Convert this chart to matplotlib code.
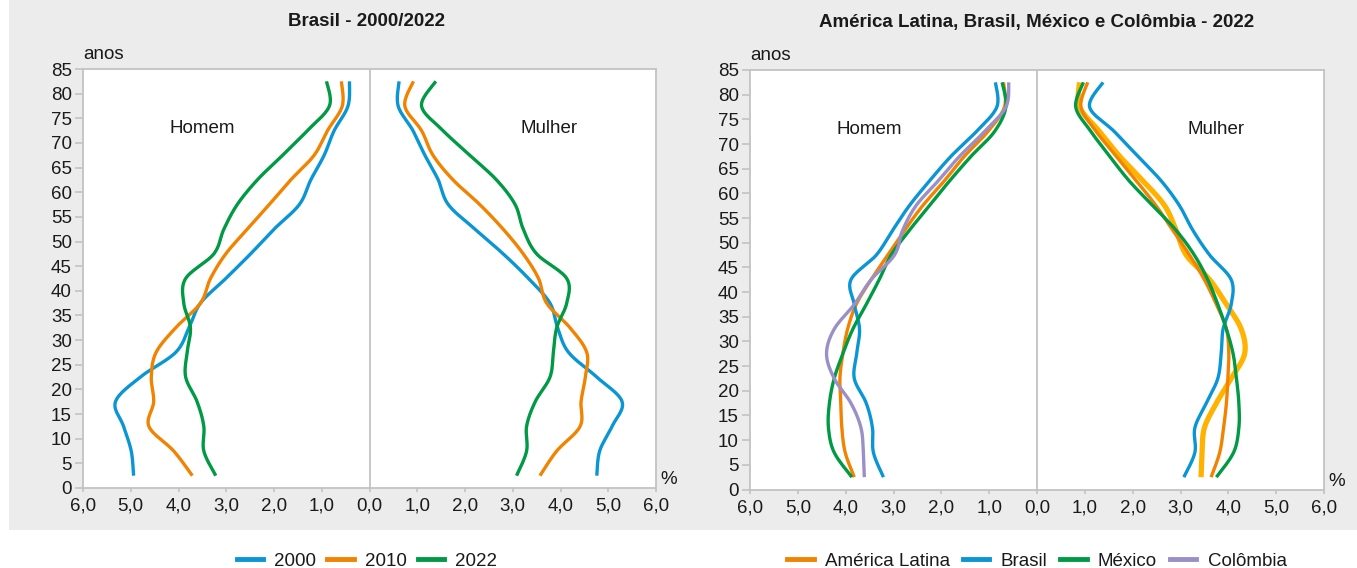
import matplotlib.pyplot as plt
import numpy as np
from matplotlib.lines import Line2D
from matplotlib.patches import Rectangle
from matplotlib.ticker import FuncFormatter

plt.rcParams['font.family'] = ['Liberation Sans', 'DejaVu Sans']

# midpoints of the 5-year age groups (0-4 ... 80+)
ages = [2.5, 7.5, 12.5, 17.5, 22.5, 27.5, 32.5, 37.5, 42.5,
        47.5, 52.5, 57.5, 62.5, 67.5, 72.5, 77.5, 82.5]

# Brasil 2000/2010/2022 - % of population, by age group (bottom -> top)
br_men_2000 = [4.94, 4.99, 5.15, 5.32, 4.80, 4.06, 3.78, 3.54, 3.01, 2.49, 2.00, 1.47, 1.23, 0.95, 0.74, 0.45, 0.42]
br_men_2010 = [3.71, 4.10, 4.62, 4.52, 4.57, 4.47, 4.06, 3.54, 3.33, 3.01, 2.56, 2.10, 1.65, 1.16, 0.88, 0.57, 0.59]
br_men_2022 = [3.22, 3.47, 3.47, 3.61, 3.85, 3.82, 3.75, 3.89, 3.85, 3.26, 3.05, 2.77, 2.35, 1.82, 1.30, 0.84, 0.90]
br_women_2000 = [4.76, 4.82, 5.08, 5.29, 4.76, 4.17, 3.94, 3.78, 3.33, 2.80, 2.21, 1.65, 1.44, 1.16, 0.91, 0.60, 0.62]
br_women_2010 = [3.57, 3.92, 4.41, 4.43, 4.52, 4.55, 4.20, 3.71, 3.54, 3.22, 2.80, 2.31, 1.75, 1.33, 1.09, 0.74, 0.92]
br_women_2022 = [3.08, 3.29, 3.29, 3.47, 3.78, 3.85, 3.92, 4.13, 4.13, 3.50, 3.22, 3.05, 2.66, 2.10, 1.54, 1.09, 1.39]

# America Latina, Brasil, Mexico, Colombia - 2022
al_men = [3.82, 4.01, 4.08, 4.10, 4.12, 4.06, 3.96, 3.78, 3.47, 3.12, 2.77, 2.39, 1.94, 1.52, 1.03, 0.68, 0.70]
bra_men = [3.21, 3.42, 3.44, 3.57, 3.82, 3.77, 3.71, 3.82, 3.89, 3.36, 3.02, 2.67, 2.25, 1.80, 1.27, 0.84, 0.87]
mex_men = [3.87, 4.24, 4.36, 4.34, 4.24, 4.06, 3.85, 3.57, 3.30, 3.05, 2.67, 2.25, 1.83, 1.38, 0.89, 0.65, 0.73]
col_men = [3.61, 3.63, 3.68, 3.89, 4.24, 4.40, 4.24, 3.82, 3.47, 2.98, 2.81, 2.53, 2.07, 1.62, 1.10, 0.65, 0.59]
al_women = [3.64, 3.82, 3.90, 3.96, 3.99, 4.01, 3.96, 3.75, 3.50, 3.19, 2.84, 2.49, 2.08, 1.66, 1.24, 0.92, 1.06]
bra_women = [3.07, 3.30, 3.30, 3.54, 3.78, 3.85, 3.89, 4.06, 4.06, 3.61, 3.26, 2.98, 2.60, 2.11, 1.62, 1.10, 1.38]
mex_women = [3.75, 4.11, 4.22, 4.22, 4.17, 4.10, 3.96, 3.78, 3.57, 3.29, 2.91, 2.42, 1.93, 1.52, 1.13, 0.81, 0.97]
col_women = [3.43, 3.45, 3.50, 3.75, 4.06, 4.34, 4.27, 3.96, 3.61, 3.12, 2.91, 2.67, 2.22, 1.73, 1.31, 0.89, 0.89]

years = ['2000', '2010', '2022']
countries = ['América Latina', 'Brasil', 'México', 'Colômbia']

BLUE = '#0a95d4'
ORANGE = '#f18300'
GREEN = '#009a44'
PURPLE = '#9a8fc7'
YELLOW = '#ffb300'
GRAY = '#c3c3c3'
TXT = '#1a1a1a'


def smooth(x, y, n=16):
    # catmull-rom through the points (like excel "smoothed line")
    p = np.column_stack([x, y]).astype(float)
    p = np.vstack([p[0], p, p[-1]])
    t = np.linspace(0, 1, n, endpoint=False)[:, None]
    out = []
    for i in range(1, len(p) - 2):
        p0, p1, p2, p3 = p[i - 1], p[i], p[i + 1], p[i + 2]
        seg = 0.5 * (2 * p1 + (-p0 + p2) * t
                     + (2 * p0 - 5 * p1 + 4 * p2 - p3) * t ** 2
                     + (-p0 + 3 * p1 - 3 * p2 + p3) * t ** 3)
        out.append(seg)
    out.append(p[-2][None, :])
    out = np.vstack(out)
    return out[:, 0], out[:, 1]


def curve(ax, vals, color, lw=2.4, side=1):
    x, y = smooth(side * np.array(vals), ages)
    ax.plot(x, y, color=color, lw=lw, solid_capstyle='butt', zorder=3)


def style(ax):
    ax.set_xlim(-6, 6)
    ax.set_ylim(0, 85)
    ax.set_xticks(np.arange(-6, 7, 1))
    ax.xaxis.set_major_formatter(FuncFormatter(lambda v, p: f'{abs(v):.1f}'.replace('.', ',')))
    ax.set_yticks(range(0, 86, 5))
    ax.axvline(0, color=GRAY, lw=1.3, zorder=1)
    for s in ax.spines.values():
        s.set_color(GRAY)
        s.set_linewidth(1.3)
    ax.tick_params(axis='y', colors=GRAY, labelcolor=TXT, labelsize=13.5, length=6, width=1.2, pad=2)
    ax.tick_params(axis='x', colors=GRAY, labelcolor=TXT, labelsize=13.5, length=3, width=1.2, pad=4)
    ax.annotate('anos', xy=(0, 1), xycoords='axes fraction', xytext=(0, 7),
                textcoords='offset points', ha='left', va='baseline', fontsize=13.5, color=TXT)
    ax.annotate('%', xy=(1, 0), xycoords='axes fraction', xytext=(3, 0),
                textcoords='offset points', ha='left', va='bottom', fontsize=13.5, color=TXT)
    ax.text(-3.5, 73, 'Homem', ha='center', va='center', fontsize=13.5, color=TXT)
    ax.text(3.75, 73, 'Mulher', ha='center', va='center', fontsize=13.5, color=TXT)


fig = plt.figure(figsize=(13.57, 5.68), dpi=100)
fig.patch.set_facecolor('white')
fig.patches.append(Rectangle((9 / 1357, 1 - 530 / 568), 1, 530 / 568, transform=fig.transFigure,
                             facecolor='#ececec', edgecolor='none', zorder=-10))

ax1 = fig.add_axes([83 / 1357, 1 - 488 / 568, 573 / 1357, 419 / 568])
ax2 = fig.add_axes([750 / 1357, 1 - 489.5 / 568, 574 / 1357, 419.5 / 568])

# left panel
for vals, c in zip([br_men_2000, br_men_2010, br_men_2022], [BLUE, ORANGE, GREEN]):
    curve(ax1, vals, c, side=-1)
for vals, c in zip([br_women_2000, br_women_2010, br_women_2022], [BLUE, ORANGE, GREEN]):
    curve(ax1, vals, c, side=1)
style(ax1)

# right panel
for vals, c in zip([al_men, bra_men, mex_men, col_men], [ORANGE, BLUE, GREEN, PURPLE]):
    curve(ax2, vals, c, side=-1)
curve(ax2, col_women, YELLOW, lw=3.8)
for vals, c in zip([al_women, bra_women, mex_women], [ORANGE, BLUE, GREEN]):
    curve(ax2, vals, c, side=1)
style(ax2)

fig.text(366 / 1357, 1 - 22 / 568, 'Brasil - 2000/2022', ha='center', va='center',
         fontsize=13.5, fontweight='bold', color=TXT)
fig.text(1037 / 1357, 1 - 22 / 568, 'América Latina, Brasil, México e Colômbia - 2022',
         ha='center', va='center', fontsize=13.5, fontweight='bold', color=TXT)

h1 = [Line2D([], [], color=c, lw=3.5) for c in [BLUE, ORANGE, GREEN]]
fig.legend(h1, years, loc='center', bbox_to_anchor=(367 / 1357, 1 - 561 / 568), ncol=3,
           frameon=False, fontsize=13.5, handlelength=1.4, handletextpad=0.6, columnspacing=0.6,
           labelcolor=TXT)
h2 = [Line2D([], [], color=c, lw=3.5) for c in [ORANGE, BLUE, GREEN, PURPLE]]
fig.legend(h2, countries, loc='center', bbox_to_anchor=(1037 / 1357, 1 - 561 / 568), ncol=4,
           frameon=False, fontsize=13.5, handlelength=1.4, handletextpad=0.6, columnspacing=0.7,
           labelcolor=TXT)

fig.savefig('out.png', dpi=100)
